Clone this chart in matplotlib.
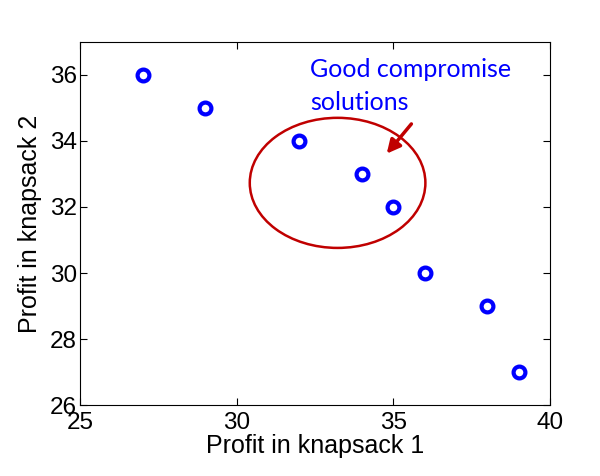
import numpy as np
import matplotlib.pyplot as plt
from matplotlib.patches import Ellipse

# profits of the non-dominated solutions
profit_1 = [27, 29, 32, 34, 35, 36, 38, 39]
profit_2 = [36, 35, 34, 33, 32, 30, 29, 27]

x_ticks = [25, 30, 35, 40]
y_ticks = [26, 28, 30, 32, 34, 36]

plt.rcParams['font.family'] = ['Liberation Sans', 'DejaVu Sans']

fig = plt.figure(figsize=(6, 4.76), dpi=100)
ax = fig.add_axes([0.133, 0.149, 0.784, 0.763])

ax.plot(profit_1, profit_2, 'o', mfc='none', mec='#0000ff', mew=3, ms=8.5)

# highlight the compromise region
ax.add_patch(Ellipse((33.22, 32.73), 5.6, 3.94, fill=False, ec='#c00000', lw=1.8))
ax.annotate('', xy=(34.73, 33.55), xytext=(35.63, 34.58),
            arrowprops=dict(arrowstyle='-|>', color='#c00000', lw=2.5, mutation_scale=20))
ax.text(32.35, 36.5, 'Good compromise\nsolutions', color='#0000ff', fontsize=18,
        family=['Lato', 'DejaVu Sans'], va='top', ha='left', linespacing=1.5)

ax.set_xlim(25, 40)
ax.set_ylim(26, 37)
ax.set_xticks(x_ticks)
ax.set_yticks(y_ticks)
ax.tick_params(direction='in', top=True, right=True, labelsize=17.5, length=5)
ax.tick_params(axis='y', pad=2)
ax.tick_params(axis='x', pad=5)
ax.set_xlabel('Profit in knapsack 1', fontsize=18, labelpad=0)
ax.set_ylabel('Profit in knapsack 2', fontsize=18, labelpad=6)

fig.savefig('out.png')
